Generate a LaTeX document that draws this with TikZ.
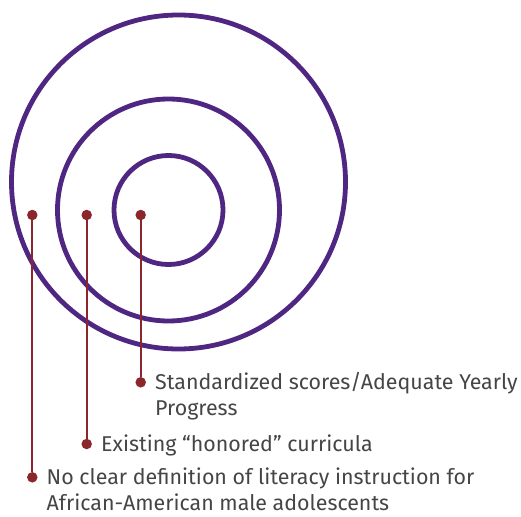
\documentclass[tikz,border=0pt]{standalone}
\usepackage{fontspec}
\setmainfont{Fira Sans}
\usepackage{tikz}
\usetikzlibrary{positioning}
\definecolor{ring}{HTML}{4F2682}
\definecolor{pin}{HTML}{8A262C}
\definecolor{txt}{HTML}{454545}
\tikzset{
  ring/.style={draw=ring, line width=4.8pt},
  lead/.style={draw=pin, line width=2pt},
  dot/.style={circle, fill=pin, inner sep=0pt, minimum size=10.5pt},
  lab/.style={text=txt, font=\fontsize{21.4}{26}\selectfont, anchor=base west, align=left, inner sep=0pt},
}
\begin{document}
\begin{tikzpicture}[x=1pt,y=-1pt]
  \useasboundingbox (0,0) rectangle (521,516);
  % rings
  \draw[ring] (178.5,182) circle (167);
  \draw[ring] (168.5,210) circle (111);
  \draw[ring] (168.5,210) circle (54.5);
  % pins inside the rings
  \node[dot] (in1) at (140.7,215) {};
  \node[dot] (in2) at (86.7,215) {};
  \node[dot] (in3) at (32.3,215) {};
  % pins beside the labels
  \node[dot] (out1) at (140.7,382.3) {};
  \node[dot] (out2) at (86.7,444) {};
  \node[dot] (out3) at (32.3,477.3) {};
  \draw[lead] (in1) -- (out1);
  \draw[lead] (in2) -- (out2);
  \draw[lead] (in3) -- (out3);
  % labels (base of a two-line node is its last line)
  \node[lab] (score) at (155,415.5) {Standardized scores/Adequate Yearly\\Progress};
  \node[lab] (honor) at (101,451) {Existing “honored” curricula};
  \node[lab] (nodef) at (46.5,510.5) {No clear definition of literacy instruction for\\African-American male adolescents};
\end{tikzpicture}
\end{document}
